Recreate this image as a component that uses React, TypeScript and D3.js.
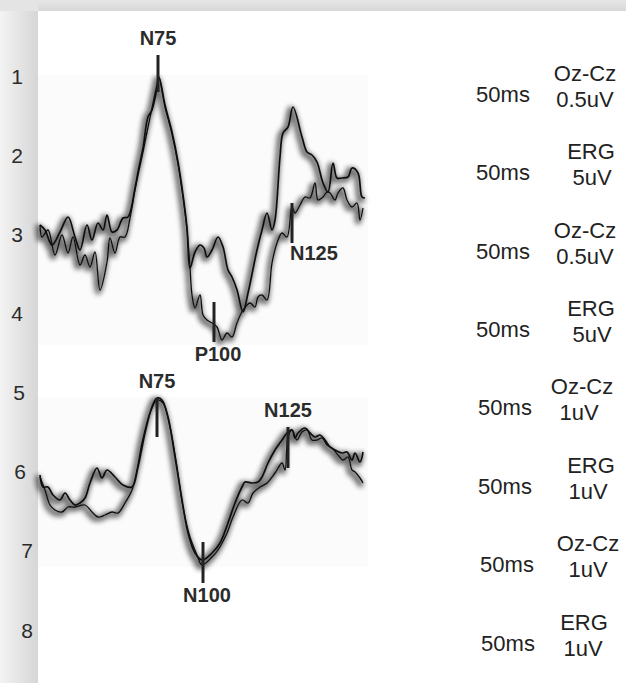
import { useEffect, useRef } from 'react';
import * as d3 from 'd3';

// time in ms (relative sample time), amplitude in arbitrary units (up = positive)
const topTraceA: [number, number][] = [
  [0, 0], [5, -5], [12, -20], [20, -7], [28, 8], [35, -12], [40, -25], [47, 0], [52, -15], [58, 2],
  [63, -5], [67, 10], [72, -7], [77, -5], [83, 7], [88, 8], [95, 37], [98, 53], [103, 77], [108, 108],
  [112, 115], [117, 137], [119, 148], [125, 120], [132, 93], [138, 63], [143, 30], [147, -3], [150, -43],
  [155, -27], [160, -20], [164, -23], [167, -32], [172, -25], [178, -12], [183, -22], [188, -45],
  [192, -52], [197, -65], [203, -87], [208, -68], [217, -25], [222, -5], [227, 12], [232, -5], [235, 5],
  [240, 68], [243, 92], [248, 98], [253, 118], [262, 88], [267, 73], [272, 70], [277, 63], [283, 42],
  [288, 33], [293, 62], [297, 47], [302, 47], [308, 48], [312, 57], [318, 52], [322, 28], [325, 27],
];

const topTraceB: [number, number][] = [
  [0, 0], [2, -12], [8, -5], [15, -30], [22, -10], [28, -28], [33, -12], [40, -40], [45, -30], [50, -42],
  [55, -27], [60, -65], [67, -37], [70, -13], [75, -28], [80, -12], [85, -12], [90, 7], [95, 35],
  [98, 50], [103, 73], [107, 93], [112, 117], [117, 140], [119, 147], [125, 118], [132, 91], [138, 61],
  [143, 28], [147, -5], [150, -43], [152, -70], [155, -83], [160, -70], [163, -90], [167, -95],
  [172, -98], [177, -102], [182, -115], [187, -108], [192, -112], [197, -98], [203, -85], [210, -78],
  [215, -82], [218, -72], [222, -70], [227, -75], [232, -38], [237, -18], [242, -8], [247, -12],
  [252, 18], [255, 12], [260, 20], [265, 28], [270, 27], [275, 42], [278, 25], [283, 28], [287, 33],
  [290, 32], [295, 25], [298, 32], [303, 37], [307, 25], [312, 18], [317, 22], [320, 5], [323, 17],
];

const bottomTraceC: [number, number][] = [
  [0, 2], [3, -10], [8, -10], [13, -18], [20, -23], [25, -16], [30, -23], [35, -28], [40, -26],
  [45, -21], [50, -6], [57, 9], [62, -1], [67, 7], [75, 0], [83, -8], [92, -10], [98, 10], [105, 44],
  [112, 70], [117, 79], [122, 77], [128, 60], [135, 20], [142, -23], [148, -56], [155, -76], [162, -83],
  [172, -76], [180, -66], [188, -46], [195, -26], [202, -10], [205, -5], [212, -6], [218, -5], [222, 0],
  [228, 14], [235, 27], [242, 37], [247, 44], [252, 47], [255, 39], [258, 44], [265, 49], [270, 44],
  [275, 40], [280, 42], [285, 37], [290, 30], [295, 27], [302, 24], [307, 25], [312, 17], [315, 24],
  [320, 15], [323, 25],
];

const bottomTraceD: [number, number][] = [
  [0, 0], [5, -13], [10, -28], [15, -33], [22, -35], [28, -30], [35, -30], [45, -28], [52, -35],
  [58, -40], [65, -38], [72, -35], [78, -36], [85, -26], [92, -13], [97, 7], [102, 34], [110, 64],
  [117, 77], [123, 74], [130, 50], [137, 10], [143, -30], [150, -60], [157, -78], [162, -88], [172, -80],
  [178, -73], [187, -56], [193, -40], [202, -23], [208, -26], [213, -16], [220, -10], [227, -6],
  [235, 4], [242, 14], [245, 7], [248, 40], [252, 47], [257, 37], [262, 45], [267, 47], [272, 37],
  [277, 37], [282, 39], [287, 32], [292, 29], [298, 22], [303, 17], [308, 20], [312, 7], [315, 5],
  [320, -1], [323, -6],
];

// component markers: label, latency, marker top/bottom amplitude
const topMarkers = [
  { label: 'N75', t: 118, v0: 170, v1: 133, pos: 'above' },
  { label: 'P100', t: 174, v0: -77, v1: -117, pos: 'below' },
  { label: 'N125', t: 252, v0: 22, v1: -18, pos: 'belowRight' },
];
const bottomMarkers = [
  { label: 'N75', t: 117, v0: 79, v1: 40, pos: 'above' },
  { label: 'N100', t: 163, v0: -65, v1: -106, pos: 'below' },
  { label: 'N125', t: 248, v0: 50, v1: 9, pos: 'above' },
];

const rowNumbers = ['1', '2', '3', '4', '5', '6', '7', '8'];
const timeLabels = ['50ms', '50ms', '50ms', '50ms', '50ms', '50ms', '50ms', '50ms'];
const channelLabels = ['Oz-Cz', 'ERG', 'Oz-Cz', 'ERG', 'Oz-Cz', 'ERG', 'Oz-Cz', 'ERG'];
const gainLabels = ['0.5uV', '5uV', '0.5uV', '5uV', '1uV', '1uV', '1uV', '1uV'];

export default function App() {
  const svgRef = useRef<SVGSVGElement | null>(null);

  useEffect(() => {
    if (!svgRef.current) return;
    const width = 626;
    const height = 683;
    const font = '"Liberation Sans", Arial, sans-serif';

    const svg = d3.select(svgRef.current);
    svg.selectAll('*').remove();
    svg.attr('width', width).attr('height', height);

    const defs = svg.append('defs');

    // gray band gradients (shadow cast by the white sheet)
    const leftGrad = defs.append('linearGradient').attr('id', 'leftGrad')
      .attr('x1', 0).attr('x2', 1).attr('y1', 0).attr('y2', 0);
    leftGrad.append('stop').attr('offset', '0%').attr('stop-color', '#f3f3f3');
    leftGrad.append('stop').attr('offset', '100%').attr('stop-color', '#d6d6d6');
    const topGrad = defs.append('linearGradient').attr('id', 'topGrad')
      .attr('x1', 0).attr('x2', 0).attr('y1', 0).attr('y2', 1);
    topGrad.append('stop').attr('offset', '0%').attr('stop-color', '#e6e6e6');
    topGrad.append('stop').attr('offset', '100%').attr('stop-color', '#d8d8d8');

    const lineShadow = defs.append('filter').attr('id', 'lineShadow')
      .attr('x', '-10%').attr('y', '-10%').attr('width', '120%').attr('height', '120%');
    lineShadow.append('feMorphology').attr('in', 'SourceAlpha').attr('operator', 'dilate')
      .attr('radius', 1.5).attr('result', 'fat');
    lineShadow.append('feGaussianBlur').attr('in', 'fat').attr('stdDeviation', 2.6).attr('result', 'blur');
    lineShadow.append('feOffset').attr('in', 'blur').attr('dx', -2.5).attr('dy', 1.5).attr('result', 'off');
    lineShadow.append('feComponentTransfer').attr('in', 'off').attr('result', 'soft')
      .append('feFuncA').attr('type', 'linear').attr('slope', 0.55);
    const merge = lineShadow.append('feMerge');
    merge.append('feMergeNode').attr('in', 'soft');
    merge.append('feMergeNode').attr('in', 'SourceGraphic');

    // background + white sheet
    svg.append('rect').attr('width', width).attr('height', height).attr('fill', 'url(#leftGrad)')
      .attr('width', 38);
    svg.append('rect').attr('x', 0).attr('width', width).attr('height', 11).attr('fill', 'url(#topGrad)');
    svg.append('rect').attr('x', 0).attr('width', 38).attr('height', 11).attr('fill', '#e4e4e4');
    svg.append('rect').attr('x', 38).attr('y', 11).attr('width', width).attr('height', height)
      .attr('fill', '#fff');

    const x = d3.scaleLinear().domain([0, 325]).range([40, 365]);
    const yTop = d3.scaleLinear().domain([-120, 150]).range([345, 75]);
    const yBot = d3.scaleLinear().domain([-90, 80]).range([567, 397]);

    // faint plot areas
    svg.append('rect').attr('x', 38).attr('y', yTop(150)).attr('width', x(325) - 35)
      .attr('height', yTop(-120) - yTop(150)).attr('fill', '#fbfbfb');
    svg.append('rect').attr('x', 38).attr('y', yBot(80)).attr('width', x(325) - 35)
      .attr('height', yBot(-90) - yBot(80)).attr('fill', '#fbfbfb');

    const drawPanel = (
      y: d3.ScaleLinear<number, number>,
      traces: [number, number][][],
      markers: { label: string; t: number; v0: number; v1: number; pos: string }[],
    ) => {
      const line = d3.line<[number, number]>()
        .x(d => x(d[0]))
        .y(d => y(d[1]))
        .curve(d3.curveCatmullRom.alpha(0.5));

      const g = svg.append('g').style('filter', 'url(#lineShadow)');
      traces.forEach((tr, i) => {
        g.append('path')
          .datum(tr)
          .attr('d', line)
          .attr('fill', 'none')
          .attr('stroke', '#111')
          .attr('stroke-width', i === 0 ? 1.7 : 1.3)
          .attr('stroke-linejoin', 'round');
      });

      markers.forEach(m => {
        svg.append('line')
          .attr('x1', x(m.t)).attr('x2', x(m.t))
          .attr('y1', y(m.v0)).attr('y2', y(m.v1))
          .attr('stroke', '#222').attr('stroke-width', 3);
        const t = svg.append('text')
          .attr('font-family', font)
          .attr('font-weight', 'bold')
          .attr('font-size', 20)
          .attr('fill', '#2b2b2b')
          .text(m.label);
        if (m.pos === 'above') {
          t.attr('x', x(m.t)).attr('y', y(m.v0) - 10).attr('text-anchor', 'middle');
        } else if (m.pos === 'below') {
          t.attr('x', x(m.t) + 4).attr('y', y(m.v1) + 19).attr('text-anchor', 'middle');
        } else {
          t.attr('x', x(m.t) - 2).attr('y', y(m.v1) + 17).attr('text-anchor', 'start');
        }
      });
    };

    drawPanel(yTop, [topTraceA, topTraceB], topMarkers);
    drawPanel(yBot, [bottomTraceC, bottomTraceD], bottomMarkers);

    // row numbers
    const rowY = d3.scalePoint<string>().domain(rowNumbers).range([76, 630]);
    const rowX = [17, 17, 17, 17, 19, 20, 27, 27];
    svg.append('g').selectAll('text').data(rowNumbers).join('text')
      .attr('x', (_, i) => rowX[i])
      .attr('y', d => rowY(d)!)
      .attr('dy', '0.36em')
      .attr('text-anchor', 'middle')
      .attr('font-family', font)
      .attr('font-size', 21)
      .attr('fill', '#2b2b2b')
      .text(d => d);

    // right-hand scale labels
    const labY = d3.scalePoint<number>().domain(d3.range(8)).range([94, 643]);
    const msX = [503, 503, 503, 503, 505, 505, 507, 508];
    const chX = [585, 591, 585, 591, 582, 591, 588, 584];
    const gainX = [585, 592, 585, 592, 579, 588, 588, 583];
    const right = svg.append('g')
      .attr('font-family', font)
      .attr('font-size', 22)
      .attr('fill', '#222')
      .attr('text-anchor', 'middle');
    timeLabels.forEach((lab, i) => {
      const cy = labY(i)!;
      right.append('text').attr('x', msX[i]).attr('y', cy).attr('dy', '0.35em').text(lab);
      right.append('text').attr('x', chX[i]).attr('y', cy - 21).attr('dy', '0.35em').text(channelLabels[i]);
      right.append('text').attr('x', gainX[i]).attr('y', cy + 5).attr('dy', '0.35em').text(gainLabels[i]);
    });
  }, []);

  return <svg ref={svgRef} style={{ position: 'absolute', left: 0, top: 0, display: 'block' }}></svg>;
}
